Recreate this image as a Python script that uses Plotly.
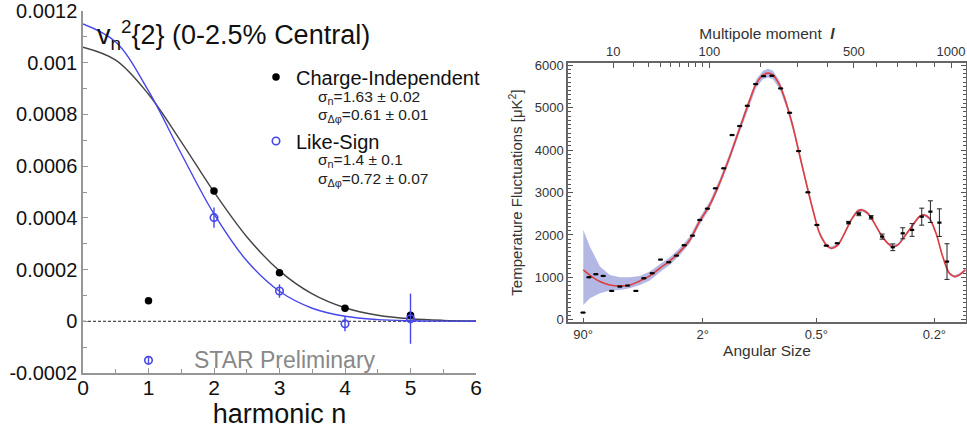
import plotly.graph_objects as go

# ---------------- Left panel data ----------------
harmonic_n = [1, 2, 3, 4, 5]
ci_values = [0.000079, 0.000504, 0.000188, 0.00005, 0.000023]
ls_values = [-0.000151, 0.000401, 0.000117, -0.00001, 0.00001]
ls_errors = [0.000012, 0.000039, 0.000026, 0.000029, 0.000097]

fit_n = [0, 0.5, 1, 1.5, 2, 2.5, 3, 3.5, 4, 4.5, 5, 5.5, 6]
ci_fit = [0.00106, 0.00101, 0.000878, 0.000694, 0.0005, 0.000327, 0.000195,
          0.000106, 0.0000523, 0.0000235, 0.0000096, 0.0000036, 0.0000012]
ls_fit = [0.00115, 0.00108, 0.000891, 0.000648, 0.000415, 0.000234, 0.000116,
          0.0000505, 0.0000194, 0.0000066, 0.000002, 0.0000006, 0.0000001]
zero_x = [0, 6]
zero_y = [0, 0]

y1_tickvals = [-0.0002, 0, 0.0002, 0.0004, 0.0006, 0.0008, 0.001, 0.0012]
y1_ticktext = ["-0.0002", "0", "0.0002", "0.0004", "0.0006", "0.0008", "0.001", "0.0012"]
y1_minor = [-0.0001, 0.0001, 0.0003, 0.0005, 0.0007, 0.0009, 0.0011]
x1_tickvals = [0, 1, 2, 3, 4, 5, 6]
x1_minor = [0.5, 1.5, 2.5, 3.5, 4.5, 5.5]

# ---------------- Right panel data ----------------
cmb_l = [2, 3, 4.5, 6.5, 9.4, 12.8, 16.6, 21.4, 26.7, 33.0, 40.1, 48.0, 56.2, 65.0,
         75.5, 85.6, 96.9, 109.6, 123.9, 139.3, 154.3, 170.3, 188.8, 207.6, 228.4,
         251.3, 276.4, 303.0, 332.2, 361.9, 394.3, 434.6, 478.5, 520.9, 574.3,
         624.7, 675.9, 726.0, 774.9, 827.6, 876.6, 929.2, 975.3]
cmb_val = [172, 1004, 1075, 1035, 682, 784, 808, 682, 980, 1098, 1420, 1357, 1514,
           1757, 1984, 2353, 2620, 3098, 3569, 4353, 4565, 5043, 5553, 5741, 5749,
           5451, 4878, 3976, 3004, 2235, 1749, 1804, 2290, 2494, 2416, 1961, 1710,
           2039, 2118, 2431, 2549, 2290, 1373]
cmb_err = [0] * 32 + [30, 40, 40, 60, 80, 130, 150, 200, 255, 325, 420]

model_l = [2.04, 3.20, 5.56, 8.75, 12.83, 17.9, 23.96, 31.15, 39.5, 49.1, 59.9, 72.0,
           85.6, 100.5, 116.9, 134.9, 154.3, 175.4, 190.3, 206.0, 218.3, 230.9,
           248.6, 267.0, 286.1, 306.1, 326.9, 348.5, 370.9, 394.3, 412.3, 437.2,
           462.7, 489.3, 516.7, 535.0, 559.7, 589.2, 619.9, 651.5, 675.9, 700.8,
           734.8, 778.6, 814.6, 842.5, 870.8, 909.3, 949.1, 989.7, 1021, 1052.6, 1091.6]
model_val = [1176, 1051, 902, 823, 800, 823, 918, 1035, 1216, 1388, 1608, 1882, 2329,
             2706, 3231, 3843, 4510, 5176, 5569, 5765, 5812, 5765, 5529, 5098, 4549,
             3882, 3216, 2588, 2039, 1765, 1686, 1765, 2039, 2353, 2565, 2588, 2510,
             2274, 2000, 1804, 1725, 1765, 1961, 2235, 2431, 2471, 2392, 2039, 1490,
             1098, 1020, 1059, 1176]
band_lo = [353, 510, 627, 690, 706, 745, 823, 925, 1120, 1300, 1525, 1800, 2245, 2620,
           3145, 3755, 4420, 5085, 5475, 5665, 5710, 5665, 5435, 5010, 4465, 3805,
           3145, 2530, 1990, 1725, 1650, 1730, 2005, 2320, 2530, 2553, 2475, 2240,
           1968, 1772, 1693, 1733, 1929, 2203, 2399, 2439, 2360, 2007, 1458, 1066,
           988, 1027, 1144]
band_hi = [2118, 1725, 1255, 1059, 1004, 1004, 1035, 1137, 1310, 1475, 1690, 1965,
           2410, 2790, 3320, 3930, 4600, 5270, 5665, 5865, 5915, 5865, 5625, 5185,
           4635, 3960, 3290, 2650, 2090, 1805, 1720, 1800, 2075, 2390, 2600, 2623,
           2545, 2310, 2032, 1836, 1757, 1797, 1993, 2267, 2463, 2503, 2424, 2071,
           1522, 1130, 1052, 1091, 1208]

multipole_ticks = [10, 100, 500, 1000]
multipole_minor = [20, 30, 40, 50, 60, 70, 80, 90, 200, 300, 400, 600, 700, 800, 900]
angle_deg = [90, 2, 0.5, 0.2]
angle_text = ["90°", "2°", "0.5°", "0.2°"]
l_axis_range = [0.449, 1096]

P = 0.4  # power-law scale of the multipole axis


def sc(vals):
    return [v ** P for v in vals]


FONT = "Liberation Sans, Arial, Helvetica, sans-serif"
W, H = 967, 439
BLUE = "rgb(70,70,235)"
GRAY = "rgb(150,150,150)"

fig = go.Figure()

# ---- left panel traces ----
fig.add_trace(go.Scatter(x=zero_x, y=zero_y, mode="lines",
                         line=dict(color="#222", width=1, dash="3px,2px"),
                         showlegend=False, hoverinfo="skip", xaxis="x", yaxis="y"))
fig.add_trace(go.Scatter(x=fit_n, y=ci_fit, mode="lines", line=dict(color="#444", width=1.4, shape="spline"),
                         showlegend=False, xaxis="x", yaxis="y"))
fig.add_trace(go.Scatter(x=fit_n, y=ls_fit, mode="lines", line=dict(color=BLUE, width=1.4, shape="spline"),
                         showlegend=False, xaxis="x", yaxis="y"))
fig.add_trace(go.Scatter(x=harmonic_n, y=ci_values, mode="markers", name="Charge-Independent",
                         marker=dict(color="black", size=7.5, symbol="circle"),
                         legend="legend", xaxis="x", yaxis="y"))
fig.add_trace(go.Scatter(x=harmonic_n, y=ls_values, mode="markers", name="Like-Sign",
                         marker=dict(color=BLUE, size=7.5, symbol="circle-open", line=dict(width=1.6, color=BLUE)),
                         error_y=dict(type="data", array=ls_errors, color=BLUE, thickness=1.4, width=0),
                         legend="legend2", xaxis="x", yaxis="y"))

# ---- right panel traces ----
fig.add_trace(go.Scatter(x=sc(model_l), y=band_lo, mode="lines", line=dict(width=0, color="rgba(0,0,0,0)"),
                         showlegend=False, hoverinfo="skip", xaxis="x2", yaxis="y2"))
fig.add_trace(go.Scatter(x=sc(model_l), y=band_hi, mode="lines", line=dict(width=0, color="rgba(0,0,0,0)"),
                         fill="tonexty", fillcolor="rgba(165,172,222,0.85)",
                         showlegend=False, hoverinfo="skip", xaxis="x2", yaxis="y2"))
fig.add_trace(go.Scatter(x=sc(model_l), y=model_val, mode="lines",
                         line=dict(color="rgb(225,60,60)", width=1.6, shape="spline"),
                         showlegend=False, xaxis="x2", yaxis="y2"))
fig.add_trace(go.Scatter(x=sc(cmb_l), y=cmb_val, mode="markers",
                         marker=dict(symbol="line-ew", size=3, line=dict(width=2.2, color="black")),
                         error_y=dict(type="data", array=cmb_err, color="#222", thickness=1, width=2.5),
                         showlegend=False, xaxis="x2", yaxis="y2"))
# anchor trace for the top (multipole) axis
fig.add_trace(go.Scatter(x=sc(multipole_ticks), y=[None] * len(multipole_ticks), mode="markers",
                         marker=dict(opacity=0), showlegend=False, hoverinfo="skip",
                         xaxis="x3", yaxis="y2"))

x_rng = sc(l_axis_range)
angle_l = [180.0 / a for a in angle_deg]

fig.update_layout(
    width=W, height=H,
    margin=dict(l=0, r=0, t=0, b=0),
    paper_bgcolor="white", plot_bgcolor="white",
    font=dict(family=FONT, color="black"),
    xaxis=dict(domain=[83 / W, 476 / W], range=[0, 6], anchor="y", automargin=False,
               tickvals=x1_tickvals, ticks="inside", ticklen=5, tickcolor=GRAY,
               minor=dict(tickvals=x1_minor, ticks="inside", ticklen=4, tickcolor=GRAY),
               showline=True, linecolor=GRAY, linewidth=1.5, showgrid=False, zeroline=False,
               tickfont=dict(size=21, color="#111"), ticklabelstandoff=-5,
               title=dict(text="harmonic n", font=dict(size=27, color="#111"), standoff=4)),
    yaxis=dict(domain=[66 / H, 428 / H], range=[-0.0002, 0.0012], anchor="x", automargin=False,
               tickvals=y1_tickvals, ticktext=y1_ticktext, ticks="inside", ticklen=5, tickcolor=GRAY,
               minor=dict(tickvals=y1_minor, ticks="inside", ticklen=4, tickcolor=GRAY),
               showline=True, linecolor=GRAY, linewidth=1.5, showgrid=False, zeroline=False,
               tickfont=dict(size=20, color="#111")),
    xaxis2=dict(domain=[568 / W, 966 / W], range=x_rng, anchor="y2", automargin=False,
                tickvals=sc(angle_l), ticktext=angle_text, ticks="inside", ticklen=4, tickcolor="#555",
                showline=True, linecolor="#666", linewidth=1.5, showgrid=False, zeroline=False,
                tickfont=dict(size=13, color="#333"),
                title=dict(text="Angular Size", font=dict(size=15.5, color="#333"), standoff=4)),
    xaxis3=dict(overlaying="x2", side="top", range=x_rng, anchor="y2", automargin=False,
                tickvals=sc(multipole_ticks), ticktext=[str(v) for v in multipole_ticks],
                ticks="inside", ticklen=5, tickcolor="#555",
                minor=dict(tickvals=sc(multipole_minor), ticks="inside", ticklen=4, tickcolor="#555"),
                showline=True, linecolor="#666", linewidth=1.5, showgrid=False, zeroline=False,
                tickfont=dict(size=13, color="#333"),
                title=dict(text="Multipole moment  <b><i>l</i></b>", font=dict(size=15.5, color="#333"), standoff=1)),
    yaxis2=dict(domain=[117 / H, 376 / H], range=[-50, 6050], anchor="x2", automargin=False,
                dtick=1000, tick0=0, ticks="inside", ticklen=5, tickcolor="#555",
                minor=dict(dtick=100, tick0=0, ticks="inside", ticklen=3, tickcolor="#555"),
                showline=True, linecolor="#666", linewidth=1.5, mirror="ticks",
                showgrid=False, zeroline=False,
                tickfont=dict(size=13, color="#333"),
                title=dict(text="Temperature Fluctuations [μK<sup>2</sup>]", font=dict(size=15, color="#333"), standoff=8)),
    legend=dict(x=256 / W, y=(H - 77) / H, xanchor="left", yanchor="middle",
                bgcolor="rgba(0,0,0,0)", font=dict(size=20, color="#111", family=FONT)),
    legend2=dict(x=256 / W, y=(H - 141) / H, xanchor="left", yanchor="middle",
                 bgcolor="rgba(0,0,0,0)", font=dict(size=20, color="#111", family=FONT)),
)

ann_font = dict(size=15.5, color="#222", family=FONT)
annotations = [
    dict(text="v<sub>n</sub><sup>2</sup>{2} (0-2.5% Central)", x=95 / W, y=(H - 35) / H,
         xanchor="left", yanchor="middle", font=dict(size=27, color="#111", family=FONT)),
    dict(text="σ<sub>n</sub>=1.63 ± 0.02", x=316 / W, y=(H - 97) / H, xanchor="left", yanchor="middle", font=ann_font),
    dict(text="σ<sub>Δφ</sub>=0.61 ± 0.01", x=316 / W, y=(H - 116) / H, xanchor="left", yanchor="middle", font=ann_font),
    dict(text="σ<sub>n</sub>=1.4 ± 0.1", x=316 / W, y=(H - 160) / H, xanchor="left", yanchor="middle", font=ann_font),
    dict(text="σ<sub>Δφ</sub>=0.72 ± 0.07", x=316 / W, y=(H - 179) / H, xanchor="left", yanchor="middle", font=ann_font),
    dict(text="STAR Preliminary", x=285 / W, y=(H - 360) / H, xanchor="center", yanchor="middle",
         font=dict(size=23, color="#888", family=FONT)),
]
for a in annotations:
    a.update(xref="paper", yref="paper", showarrow=False)
fig.update_layout(annotations=annotations)

fig.write_html("out.html")
